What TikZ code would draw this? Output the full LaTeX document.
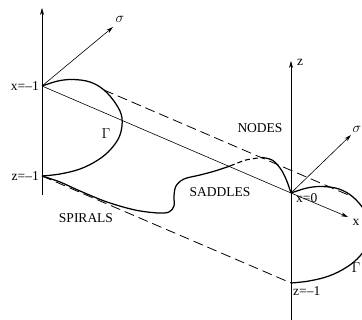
\documentclass[tikz,border=0pt]{standalone}
\usepackage{fontspec}
\setmainfont{Liberation Serif}
\usetikzlibrary{arrows.meta}
\begin{document}
\begin{tikzpicture}[x=1pt,y=-1pt,
  axis/.style={line width=0.6pt},
  arr/.style={line width=0.6pt,-{Stealth[length=7pt,width=4pt]}},
  curve/.style={line width=1.25pt},
  hidden/.style={line width=0.8pt,dash pattern=on 10pt off 5pt},
  hcurve/.style={line width=1.1pt,dash pattern=on 5pt off 3pt},
  lbl/.style={font=\fontsize{13.5}{14}\selectfont,inner sep=0pt}]
\useasboundingbox (0,0) rectangle (362,320);
\clip (0,0) rectangle (362,320);
% key points
\coordinate (Lx) at (42,86);
\coordinate (Lz) at (42,176);
\coordinate (Ltop) at (42,8);
\coordinate (Lbot) at (42,195);
\coordinate (Lsig) at (113,27);
\coordinate (Rx) at (291,193);
\coordinate (Rz) at (291,283);
\coordinate (Rtop) at (291,61);
\coordinate (Rbot) at (291,325);
\coordinate (Rsig) at (351,135);
\coordinate (Rxa) at (348,217);
\coordinate (LT) at (104,90);
\coordinate (RT) at (353,197);
% axes
\draw[arr] (Lbot) -- (Ltop);
\draw[arr] (Rbot) -- (Rtop);
\draw[arr] (Lx) -- (Lsig);
\draw[arr] (Rx) -- (Rsig);
\draw[arr] (Rx) -- (Rxa);
\draw[axis] (Lx) -- (Rx);
% dashed generators
\draw[hidden] (LT) -- (RT);
\draw[hidden] (Lz) -- (Rz);
% Gamma curves
\draw[curve] plot[smooth,tension=0.6] coordinates {(42,86) (58,81) (73,79.5) (90,82) (104,90) (116,104) (122,118) (120,135) (111,149) (98,160) (80,169) (60,174) (42,176)};
\begin{scope}[shift={(249,107)}]
\draw[curve] plot[smooth,tension=0.6] coordinates {(42,86) (58,81) (73,79.5) (90,82) (104,90) (116,104) (122,118) (120,135) (111,149) (98,160) (80,169) (60,174) (42,176)};
\end{scope}
% trajectory
\draw[curve] plot[smooth,tension=0.55] coordinates {(42,176) (60,182) (80,191) (107,202) (135,210) (158,213) (169,212) (174,206) (174,196) (176,186) (184,179) (200,175) (215,171) (230,166)};
\draw[hcurve] plot[smooth] coordinates {(230,166) (246,160) (262,157.5)};
\draw[curve] plot[smooth,tension=0.6] coordinates {(262,157.5) (272,160) (280,168) (286,179) (291,193)};
% labels
\node[lbl,anchor=east] (lxm1) at (39,86) {x=–1};
\node[lbl,anchor=east] (lzm1) at (39,176) {z=–1};
\node[lbl] (lsig) at (120,19) {$\sigma$};
\node[lbl] (lgam) at (106,134) {$\Gamma$};
\node[lbl] (nodes) at (260,128) {NODES};
\node[lbl] (saddles) at (220,192) {SADDLES};
\node[lbl] (spirals) at (86,218) {SPIRALS};
\node[lbl] (zlab) at (300,62) {z};
\node[lbl] (rsig) at (357,129) {$\sigma$};
\node[lbl,anchor=west] (x0) at (296,198) {x=0};
\node[lbl] (xlab) at (356,222) {x};
\node[lbl] (rgam) at (356,268) {$\Gamma$};
\node[lbl,anchor=west] (rzm1) at (293,291) {z=–1};
\end{tikzpicture}
\end{document}
